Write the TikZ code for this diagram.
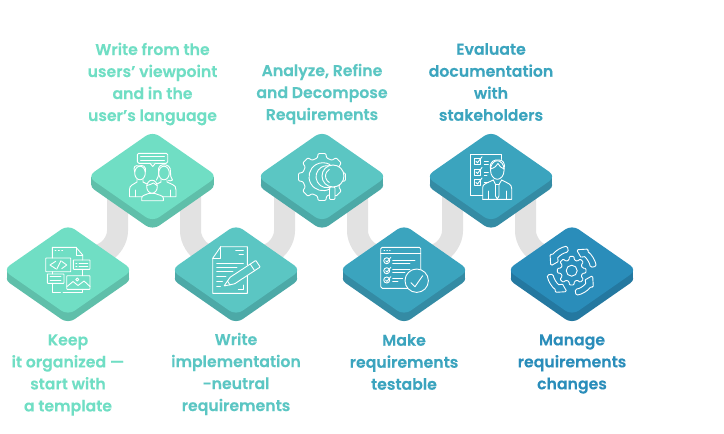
\documentclass[tikz,border=0pt]{standalone}
\usepackage{fontspec}
\usetikzlibrary{shapes.geometric,backgrounds}
\newfontfamily\labelfont{Poppins SemiBold}[FakeBold=0.25]
\definecolor{mintTop}{HTML}{70DEC4}
\definecolor{mintSide}{HTML}{5FBFAA}
\definecolor{tealTop}{HTML}{5BC6C3}
\definecolor{tealSide}{HTML}{4CA9A7}
\definecolor{blueTop}{HTML}{3BA4BE}
\definecolor{blueSide}{HTML}{348BA4}
\definecolor{deepTop}{HTML}{2A8DBA}
\definecolor{deepSide}{HTML}{2478A0}
\definecolor{linkGray}{HTML}{E2E2E2}
\tikzset{
	block/.style={shape=diamond,aspect=1.436,minimum width=130pt,minimum height=90.5pt,inner sep=0pt,outer sep=0pt,rounded corners=8pt},
	steplabel/.style={align=center,inner sep=0pt,font=\labelfont\fontsize{15.7}{22}\selectfont},
	link/.style={draw=linkGray,line width=21pt,rounded corners=15pt},
	icon/.style={draw=white,line width=.9pt,line join=round,line cap=round}
}
% eight teeth round a point: centre, root radius, tip radius
\newcommand{\cogwheel}[3]{
	\draw[icon,rounded corners=1pt,shift={#1}] (-14:#2) \foreach \a in {0,45,...,315} { -- (\a-14:#2) -- (\a-9:#3) -- (\a+9:#3) -- (\a+14:#2) } -- cycle;
}
\begin{document}
\begin{tikzpicture}[x=1pt,y=-1pt]
	\useasboundingbox (0,0) rectangle (724,434);

	% blocks
	\foreach \nm/\x/\y/\top/\side in {keep/68/270/mintTop/mintSide, team/152.5/176.5/mintTop/mintSide, neutral/236/270/tealTop/tealSide, refine/322/176.5/tealTop/tealSide, testable/404/270/blueTop/blueSide, evaluate/491/176.5/blueTop/blueSide, manage/572/270/deepTop/deepSide}
	{
		\fill[\side] (\x-61.4,\y) rectangle (\x+61.4,\y+8.5);
		\node[block,fill=\side] (\nm Side) at (\x,\y+8.5) {};
		\node[block,fill=\top] (\nm) at (\x,\y) {};
	}

	% gray bands behind the blocks
	\coordinate (bendA) at (117.5,246);
	\coordinate (bendB) at (190.5,246);
	\coordinate (bendC) at (284.5,246);
	\coordinate (bendD) at (357.5,246);
	\coordinate (bendE) at (452.5,246);
	\coordinate (bendF) at (525.5,246);
	\begin{pgfonlayer}{background}
		\draw[link] (keep.center) -- (bendA) -- (bendA |- team.center) -- (team.center);
		\draw[link] (neutral.center) -- (bendB) -- (bendB |- team.center) -- (team.center);
		\draw[link] (neutral.center) -- (bendC) -- (bendC |- refine.center) -- (refine.center);
		\draw[link] (testable.center) -- (bendD) -- (bendD |- refine.center) -- (refine.center);
		\draw[link] (testable.center) -- (bendE) -- (bendE |- evaluate.center) -- (evaluate.center);
		\draw[link] (manage.center) -- (bendF) -- (bendF |- evaluate.center) -- (evaluate.center);
	\end{pgfonlayer}

	% labels
	\node[steplabel,text=mintTop] (teamLabel) at (152.5,84) {Write from the\\users’ viewpoint\\and in the\\user’s language};
	\node[steplabel,text=tealTop] (refineLabel) at (322,94) {Analyze, Refine\\and Decompose\\Requirements};
	\node[steplabel,text=blueTop] (evaluateLabel) at (491,82) {Evaluate\\documentation\\with\\stakeholders};
	\node[steplabel,text=mintTop] (keepLabel) at (68,375) {Keep\\it organized —\\start with\\a template};
	\node[steplabel,text=tealTop] (neutralLabel) at (236,374) {Write\\implementation\\-neutral\\requirements};
	\node[steplabel,text=blueTop] (testableLabel) at (404,362) {Make\\requirements\\testable};
	\node[steplabel,text=deepTop] (manageLabel) at (572,364) {Manage\\requirements\\changes};

	% template icon
	\draw[icon] (52.3,258) -- (52.3,247.3) -- (76,247.3) -- (82.7,255) -- (82.7,260);
	\draw[icon] (76,247.3) -- (76,255) -- (82.7,255);
	\draw[icon] (52.3,271.7) -- (52.3,274);
	\draw[icon] (82.7,269.3) -- (82.7,275.7);
	\draw[icon] (52.3,283.3) -- (52.3,292.3) -- (60.5,292.3);
	\draw[icon] (63,292.3) -- (82.7,292.3) -- (82.7,289.3);
	\foreach \x in {55,58.3,61.7}
	\draw[icon] (\x,250.7) -- (\x+1,250.7);
	\draw[icon,rounded corners=.5pt] (45.7,258) rectangle (70.7,271.7);
	\draw[icon] (55.7,261.3) -- (50,265) -- (55.7,268.7);
	\draw[icon] (61,260.7) -- (56.7,269.3);
	\draw[icon] (61.7,261.3) -- (66.7,265) -- (61.7,268.7);
	\draw[icon,rounded corners=.5pt] (73.3,260) rectangle (90,269.3);
	\foreach \y in {263,266.5}
	{
		\draw[icon] (75.8,\y) -- (77,\y);
		\draw[icon] (79,\y) -- (87.8,\y);
	}
	\draw[icon,rounded corners=.5pt] (47.3,274) rectangle (64,283.3);
	\draw[icon] (50,276.9) -- (61,276.9);
	\draw[icon] (50,280.2) -- (61,280.2);
	\draw[icon,rounded corners=.5pt] (66.7,275.7) rectangle (90,289.3);
	\draw[icon] (67,286.5) -- (73,281.5) -- (78,285.5) -- (84,281) -- (90,286.5);
	\draw[icon] (77.3,279.5) circle (1.5);

	% team icon
	\draw[icon,rounded corners=1.5pt] (137.3,153.3) rectangle (167.7,163.3);
	\draw[icon,fill=mintTop] (150,163.3) -- (152.7,166.5) -- (155.4,163.3);
	\draw[icon] (140.5,156.5) -- (164.5,156.5);
	\draw[icon] (140.5,160) -- (164.5,160);
	\draw[icon] (140,173) ellipse (5.3 and 6.8);
	\draw[icon] (134.7,172) .. controls (132.5,166) and (136,165) .. (139,166) .. controls (142,164.5) and (147,166) .. (145.3,172);
	\draw[icon] (141.7,196.7) -- (129.5,196.7) -- (129.5,189.5) .. controls (129.5,185) and (133.5,184.5) .. (137,182) -- (137,179.5);
	\draw[icon] (143,179.5) -- (143,182) -- (147,184);
	\draw[icon] (135,190) -- (135,196.7);
	\draw[icon] (164,173) ellipse (5.3 and 6.8);
	\draw[icon] (158.7,172) .. controls (157.5,165) and (162,164.8) .. (164,164.8) .. controls (167,164.8) and (171,166) .. (170.5,172) .. controls (170.5,176) and (171,178) .. (172.5,180) .. controls (171,181) and (169.5,181) .. (168.5,180.5);
	\draw[icon] (158.7,172) .. controls (158.5,176) and (158,178) .. (156.5,180);
	\draw[icon] (161,179.5) -- (161,182) -- (157,184);
	\draw[icon] (167,180) -- (167,182) -- (172.5,184.5) .. controls (175,185.5) and (176,187) .. (176,190) -- (176,196.7) -- (163.3,196.7);
	\draw[icon] (170.5,190) -- (170.5,196.7);
	\draw[icon,fill=mintTop] (141.7,200.7) -- (141.7,198) .. controls (141.7,195.5) and (145,195) .. (148.5,193.5) -- (155,193.5) .. controls (158.5,195) and (163.3,195.5) .. (163.3,198) -- (163.3,200.7) -- cycle;
	\draw[icon,fill=mintTop] (152,186.7) ellipse (5.3 and 6.5);
	\draw[icon] (146.9,185.5) .. controls (149,184) and (152,185) .. (153.5,183) .. controls (154.5,184.5) and (155.5,185) .. (157.1,185.5);

	% document and pencil icon
	\draw[icon] (247.3,265) -- (247.3,246.7) -- (220.7,246.7) -- (212.7,258.3) -- (212.7,293.3) -- (247.3,293.3) -- (247.3,275);
	\draw[icon] (220.7,246.7) -- (220.7,258.3) -- (212.7,258.3);
	\draw[icon] (235.7,250.7) -- (243.3,250.7);
	\draw[icon] (239,254) -- (243.3,254);
	\draw[icon] (216.7,263) -- (243.3,263);
	\draw[icon] (216.7,267) -- (237,267);
	\draw[icon] (216.7,271.5) -- (233,271.5);
	\draw[icon] (216.7,276.7) -- (226,276.7);
	\draw[icon] (216.7,281.7) -- (222.5,281.7);
	\draw[icon] (216.7,286) -- (220.5,286);
	\draw[icon] (243.3,285) -- (243.3,289.3) -- (238.3,289.3);
	\draw[icon,fill=tealTop,rounded corners=.6pt] (224,286) -- (230.2,277.2) -- (255.8,260.4) -- (260.2,267) -- (234.6,283.8) -- cycle;
	\draw[icon] (250.2,264.1) -- (254.6,270.7);
	\draw[icon] (227.5,281) -- (230,285);

	% gear and magnifier icon
	\cogwheel{(322,177)}{19.5}{23.8}
	\draw[icon,fill=tealTop,rounded corners=1pt] (329.5,187) rectangle (335,199.5);
	\draw[icon] ([shift={(60:14)}]323,176.7) arc[start angle=60,end angle=300,radius=14];
	\draw[icon] ([shift={(60:11)}]327,176.7) arc[start angle=60,end angle=300,radius=11];
	\draw[icon,fill=tealTop] (333,176) circle (11);
	\draw[icon] ([shift={(120:7.5)}]333,176) arc[start angle=120,end angle=240,radius=7.5];

	% checklist icon
	\draw[icon,rounded corners=1.5pt] (380.7,288.3) rectangle (420.7,247.3);
	\draw[icon] (380.7,253.3) -- (420.7,253.3);
	\foreach \x in {384,386.8,389.6}
	\draw[icon] (\x,250.3) -- (\x+.6,250.3);
	\foreach \y in {260.7,270.7,280}
	{
		\draw[icon] (386.7,\y) circle (3);
		\draw[icon] (385.6,\y) -- (387,\y+1.4) -- (390.8,\y-3.4);
	}
	\draw[icon] (392.7,260) -- (415,260);
	\draw[icon] (392.7,263.3) -- (410,263.3);
	\draw[icon] (392.7,269.3) -- (410,269.3);
	\draw[icon] (392.7,272.7) -- (405,272.7);
	\draw[icon] (392.7,278.3) -- (402.7,278.3);
	\draw[icon] (392.7,281.7) -- (398,281.7);
	\draw[icon,fill=blueTop] (416.7,280.7) circle (11.7);
	\draw[icon] (411,282.7) -- (415,286.7) -- (422.7,275.7);

	% stakeholder icon
	\draw[icon] (482.7,195) -- (470.7,195) -- (470.7,154) -- (501.7,154) -- (501.7,159.5);
	\foreach \y in {158.3,169,179.5}
	{
		\draw[icon] (474.3,\y) rectangle (480.5,\y+6);
		\draw[icon] (476,\y+3) -- (477.5,\y+4.5) -- (482,\y-1.5);
		\draw[icon] (484.3,\y+3.4) -- (488.3,\y+3.4);
	}
	\draw[icon] (484.3,164.8) -- (488.3,164.8);
	\draw[icon] (484.3,175.5) -- (487,175.5);
	\draw[icon,fill=blueTop] (497.3,170) ellipse (6.8 and 9.3);
	\draw[icon] (490.5,169) .. controls (489,161) and (495,159.5) .. (498.5,160) .. controls (503,159.5) and (505.5,163.5) .. (504.1,169);
	\draw[icon] (490.5,169) .. controls (494,168) and (497,166) .. (498,163.5) .. controls (499,166) and (501.5,168) .. (504.1,169);
	\draw[icon] (482.7,199.3) -- (482.7,187.5) .. controls (482.7,184) and (486,183.5) .. (493.3,180);
	\draw[icon] (501.7,180) .. controls (508,183.5) and (511.7,184) .. (511.7,188.5) -- (511.7,199.3) -- (482.7,199.3);
	\draw[icon] (488.3,191) -- (488.3,199.3);
	\draw[icon] (506,191) -- (506,199.3);
	\draw[icon] (493.3,180) -- (495.5,184.5) -- (499,184.5) -- (501.7,180);
	\draw[icon] (495.5,184.5) -- (495.5,196) -- (497.3,199) -- (499,196) -- (499,184.5);

	% gear with arrows icon
	\cogwheel{(571.7,270.7)}{11}{14.5}
	\draw[icon] (571.7,270.7) circle (5.5);
	\begin{scope}[shift={(571.7,270.7)}]
		\foreach \r in {0,90,180,270}
		\draw[icon,rounded corners=1.5pt] (\r+260:25) arc[start angle=\r+260,end angle=\r+218,radius=25] -- (\r+218:27.5) -- (\r+193:21.5) -- (\r+218:15.8) -- (\r+218:19) arc[start angle=\r+218,end angle=\r+260,radius=19] -- cycle;
	\end{scope}
\end{tikzpicture}
\end{document}
